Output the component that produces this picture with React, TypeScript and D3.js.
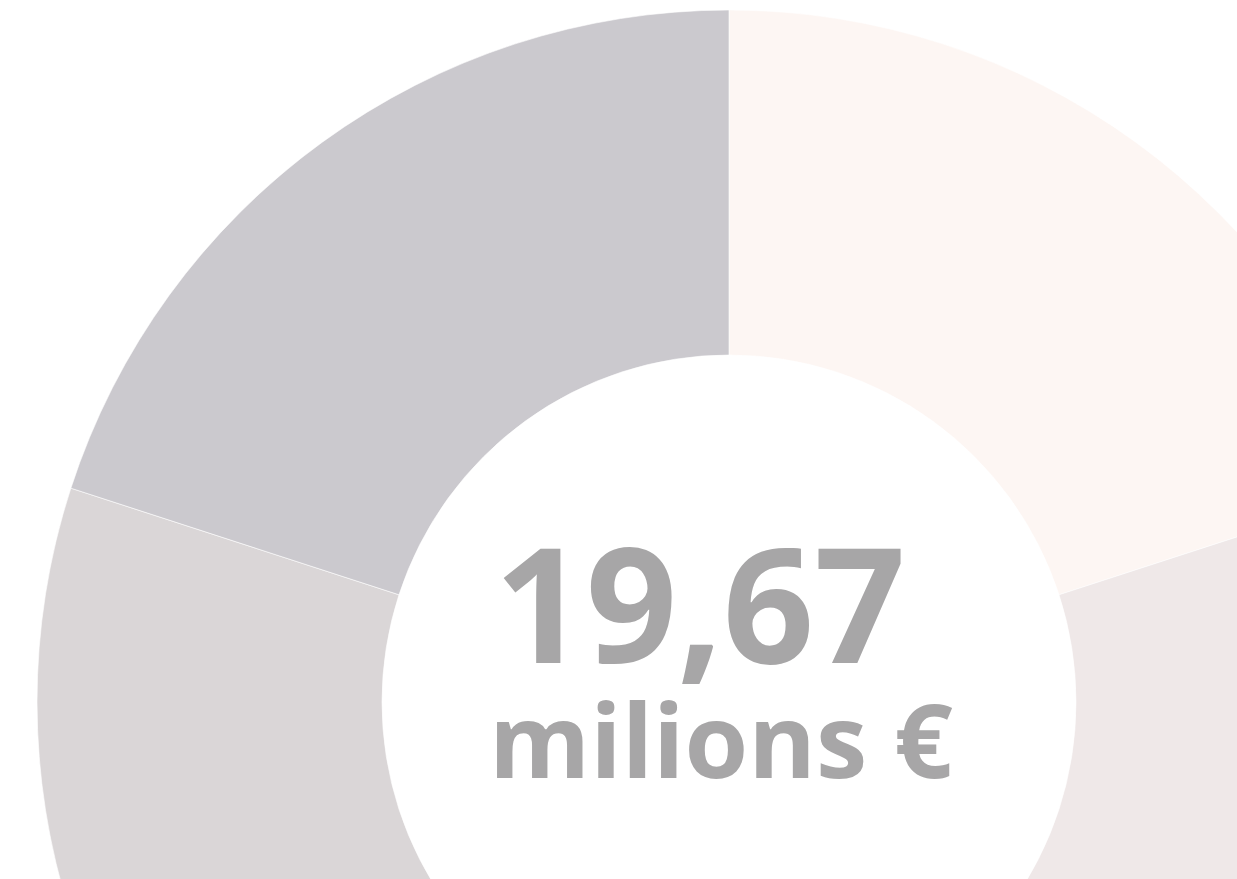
import React from "react";
import * as d3 from "d3";

const categories = ["A", "B", "C", "D", "E"];
const values = [20, 20, 20, 20, 20];
const colors = ["#fdf6f3", "#efe8e8", "#e6e1e2", "#dad6d7", "#cbc9ce"];
const totalLabel = "19,67";
const unitLabel = "milions €";

export default function App() {
  const W = 1237;
  const H = 879;
  const cx = 729;
  const cy = 702;
  const outerR = 692;
  const innerR = 347;
  const pie = d3.pie<number>().sort(null).value((d) => d);
  const arcs = pie(values);
  const arc = d3.arc<d3.PieArcDatum<number>>().innerRadius(innerR).outerRadius(outerR);
  return (
    <svg
      width={W}
      height={H}
      style={{ position: "absolute", left: 0, top: 0, display: "block", background: "#ffffff" }}
    >
      <g transform={`translate(${cx},${cy})`}>
        {arcs.map((a, i) => (
          <path key={categories[i]} d={arc(a) || ""} fill={colors[i]} stroke="#ffffff" strokeWidth={0.6} />
        ))}
      </g>
      <text
        x={700}
        y={663}
        textAnchor="middle"
        fontFamily="'Open Sans', sans-serif"
        fontWeight={700}
        fontSize={160}
        fill="#a7a6a7"
      >
        {totalLabel}
      </text>
      <text
        x={721}
        y={778}
        textAnchor="middle"
        fontFamily="'Open Sans', sans-serif"
        fontWeight={700}
        fontSize={103}
        fill="#a7a6a7"
      >
        {unitLabel}
      </text>
    </svg>
  );
}
